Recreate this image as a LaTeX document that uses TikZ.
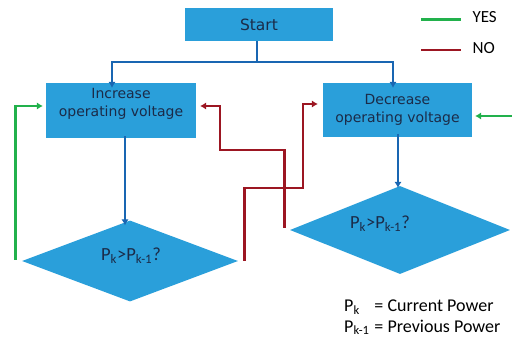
\documentclass[tikz,border=0pt]{standalone}
\usepackage{fontspec}
\setmainfont{DejaVu Sans}
\newfontfamily\carlito{Carlito}
\usetikzlibrary{arrows.meta,shapes.geometric}
\definecolor{mpBox}{HTML}{2A9FDA}
\definecolor{mpInk}{HTML}{1B2B48}
\definecolor{mpBlue}{HTML}{1966B2}
\definecolor{mpRed}{HTML}{9C1622}
\definecolor{mpGreen}{HTML}{22B14C}
\tikzset{
  mp box/.style={draw=none, fill=mpBox, text=mpInk, align=center, inner sep=0pt, font=\fontsize{14}{18}\selectfont},
  mp decision/.style={diamond, draw=none, fill=mpBox, inner sep=0pt},
  mp cond/.style={text=mpInk, font=\carlito\fontsize{18.5}{20}\selectfont},
  mp line/.style={line width=2.8pt},
  mp flow/.style={draw=mpBlue, mp line, -{Latex[length=6pt,width=7.5pt]}},
  mp yes/.style={draw=mpGreen, mp line, -{Latex[length=6pt,width=7.5pt]}},
  mp no/.style={draw=mpRed, mp line, -{Latex[length=6pt,width=7.5pt]}},
  mp legend/.style={font=\carlito\fontsize{17}{20}\selectfont, text=black, anchor=west},
}
\begin{document}
\begin{tikzpicture}[x=1pt,y=-1pt]
\useasboundingbox(0,0)rectangle(512,342);
% process boxes
\node[mp box,minimum width=148pt,minimum height=33pt,font=\fontsize{15.5}{18}\selectfont](start)at(259,24.5){Start};
\node[mp box,minimum width=150pt,minimum height=55pt,text depth=17pt](inc)at(121,110.5){Increase\\operating voltage};
\node[mp box,minimum width=149pt,minimum height=54pt](dec)at(397.5,110){Decrease\\operating voltage};
% decisions
\node[mp decision,minimum width=216pt,minimum height=81pt](ldia)at(130,261){};
\node[mp cond](lcond)at(131,256){P\textsubscript{k}>P\textsubscript{k-1}?};
\node[mp decision,minimum width=220pt,minimum height=88pt](rdia)at(400,230){};
\node[mp cond](rcond)at(380,224){P\textsubscript{k}>P\textsubscript{k-1}?};
% start split
\coordinate(split)at(257,62);
\draw[draw=mpBlue,mp line](start.south-|split)--(split);
\draw[mp flow](split)-|([xshift=-9pt,yshift=-5pt]inc.north);
\draw[mp flow](split)-|([xshift=-4.5pt,yshift=-5pt]dec.north);
\draw[mp flow]([xshift=4pt,yshift=2pt]inc.south)--([xshift=-5pt,yshift=-5pt]ldia.north);
\draw[mp flow]([xshift=0.5pt,yshift=3pt]dec.south)--([xshift=-2pt,yshift=-2pt]rdia.north);
% yes loops
\coordinate(lyes)at([xshift=-6pt,yshift=1pt]ldia.west);
\draw[mp yes](lyes)|-([xshift=-3pt,yshift=4.5pt]inc.west);
\coordinate(ryes)at(513,116);
\draw[mp yes](ryes)--([xshift=3pt]dec.east|-ryes);
% no crossings
\coordinate(lno)at([xshift=6pt]ldia.east);
\coordinate(lbend)at(303,188);
\draw[mp no](lno)|-(lbend)|-([xshift=-5pt,yshift=6pt]dec.west);
\coordinate(rno)at([xshift=-5pt,yshift=2pt]rdia.west);
\coordinate(rbend)at(220,150);
\draw[mp no](rno)|-(rbend)|-([xshift=4pt,yshift=4.5pt]inc.east);
% legend
\coordinate(yesa)at(421,19.5);\coordinate(yesb)at(461,19.5);
\draw[draw=mpGreen,mp line](yesa)--(yesb);
\node[mp legend](yest)at(469,17){YES};
\coordinate(noa)at(421,50);\coordinate(nob)at(461,50);
\draw[draw=mpRed,mp line](noa)--(nob);
\node[mp legend](not)at(469,48){NO};
\node[mp legend,font=\carlito\fontsize{18}{20}\selectfont,inner sep=0pt](defs)at(344,318){%
\begin{tabular}{@{}l@{\hspace{5pt}}l@{}}
P\textsubscript{k} & = Current Power\\
P\textsubscript{k-1} & = Previous Power
\end{tabular}};
\end{tikzpicture}
\end{document}
